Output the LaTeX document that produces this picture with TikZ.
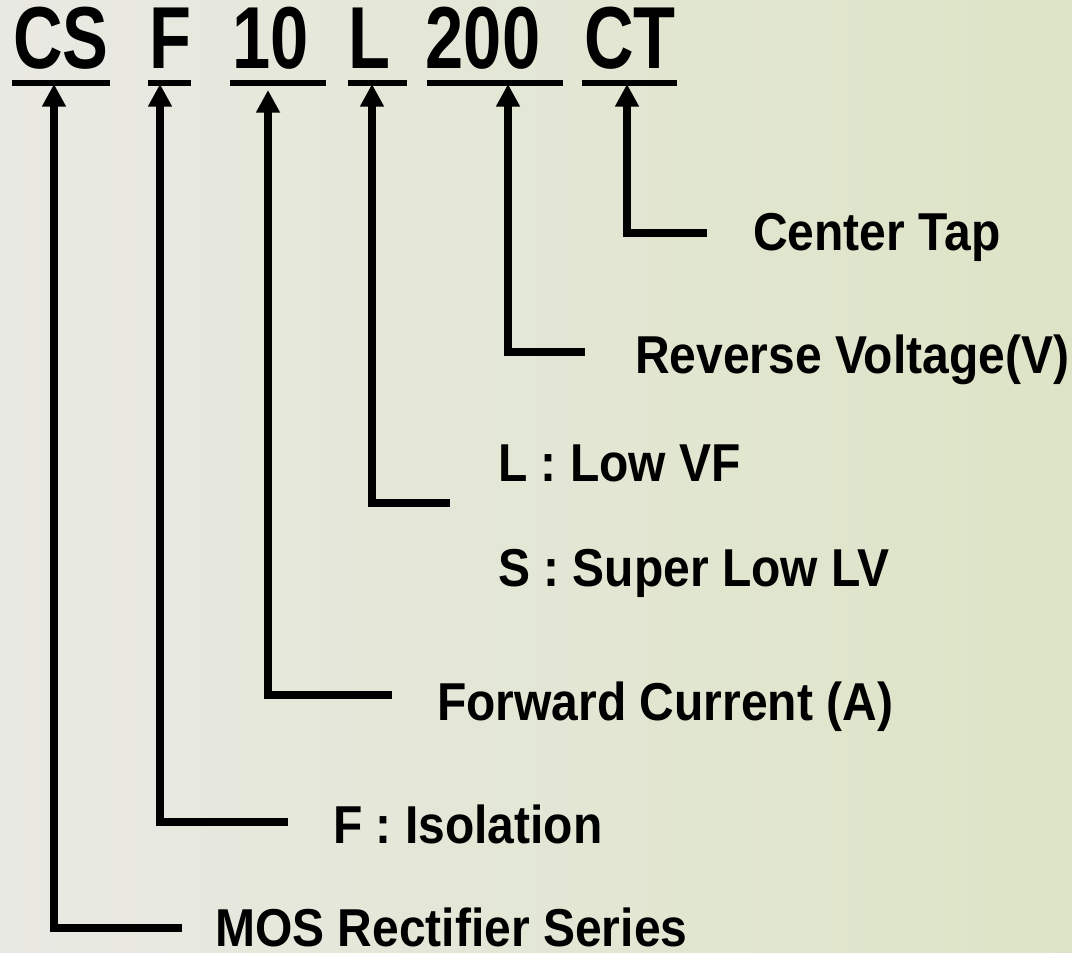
\documentclass[tikz,border=0pt]{standalone}
\usepackage{fontspec}
\setmainfont{Liberation Sans}[FakeStretch=0.9]
\newfontfamily\codicefont{Liberation Sans}[FakeStretch=0.78]
\usetikzlibrary{arrows.meta, positioning}

\definecolor{bgleft}{RGB}{233,233,227}
\definecolor{bgright}{RGB}{221,228,198}

\tikzset{
    codice/.style={font=\codicefont\fontsize{66}{66}\selectfont\bfseries, inner sep=0pt, anchor=base},
    voce/.style={font=\fontsize{40}{40}\selectfont\bfseries, inner sep=0pt, anchor=base west},
    freccia/.style={line width=6pt, -{Triangle[length=17pt, width=17pt]}},
    sottolinea/.style={line width=3.8pt}
}

\begin{document}
\begin{tikzpicture}[x=0.75pt, y=-0.75pt]

        % ==========================================
        % SFONDO
        % ==========================================
        \shade[left color=bgleft, right color=bgright] (0,0) rectangle (1072,953);
        \useasboundingbox (0,0) rectangle (1072,953);

        % ==========================================
        % CODICE IN ALTO
        % ==========================================
        \node[codice] (cs)  at (61,68)  {CS};
        \node[codice] (f)   at (170,68) {F};
        \node[codice] (ten) at (271,68) {10};
        \node[codice] (l)   at (369,68) {L};
        \node[codice] (dv)  at (483,68) {200};
        \node[codice] (ct)  at (630,68) {CT};

        % Sottolineature
        \foreach \a/\b in {12/110, 148/191, 230/326, 348/407, 427/563, 582/677}
            \draw[sottolinea] (\a,83) -- (\b,83);

        % ==========================================
        % VOCI DELLA LEGENDA
        % ==========================================
        \node[voce] (tap) at (753,250) {Center Tap};
        \node[voce] (rev) at (635,373) {Reverse Voltage(V)};
        \node[voce] (low) at (498,481) {L : Low VF};
        \node[voce] (sup) at (498,586) {S : Super Low LV};
        \node[voce] (fwd) at (437,720) {Forward Current (A)};
        \node[voce] (iso) at (333,843) {F : Isolation};
        \node[voce] (mos) at (215,946) {MOS Rectifier Series};

        % Estremi liberi dei connettori
        \coordinate (ctfine) at (707,233);
        \coordinate (dvfine) at (585,352);
        \coordinate (lfine)  at (450,503);
        \coordinate (tnfine) at (392,695);
        \coordinate (ffine)  at (288,822);
        \coordinate (csfine) at (182,928);

        % Punte delle frecce
        \coordinate (ctpunta) at (627,84);
        \coordinate (dvpunta) at (508,84);
        \coordinate (lpunta)  at (372,84);
        \coordinate (tnpunta) at (268,90);
        \coordinate (fpunta)  at (160,84);
        \coordinate (cspunta) at (54,84);

        % ==========================================
        % CONNETTORI
        % ==========================================
        \draw[freccia] (ctfine) -| (ctpunta);
        \draw[freccia] (dvfine) -| (dvpunta);
        \draw[freccia] (lfine)  -| (lpunta);
        \draw[freccia] (tnfine) -| (tnpunta);
        \draw[freccia] (ffine)  -| (fpunta);
        \draw[freccia] (csfine) -| (cspunta);

    \end{tikzpicture}
\end{document}
